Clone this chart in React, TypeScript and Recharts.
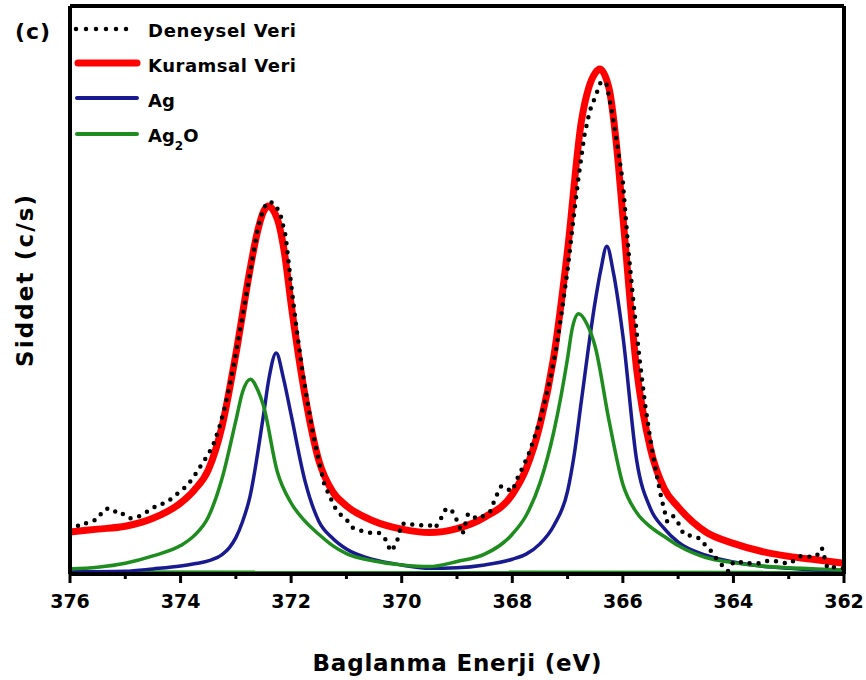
import { ComposedChart, Line, XAxis, YAxis } from "recharts";

// --- values (binding energy in eV, intensity in arbitrary units 0..100)
const EXP_E = [
  376.0, 375.9, 375.8, 375.7, 375.6, 375.5, 375.4, 375.3, 375.2, 375.1,
  375.0, 374.9, 374.8, 374.7, 374.6, 374.5, 374.4, 374.3, 374.2, 374.1,
  374.0, 373.9, 373.8, 373.7, 373.6, 373.5, 373.4, 373.3, 373.2, 373.1,
  373.0, 372.9, 372.8, 372.7, 372.6, 372.5, 372.4, 372.3, 372.2, 372.1,
  372.0, 371.9, 371.8, 371.7, 371.6, 371.5, 371.4, 371.3, 371.2, 371.1,
  371.0, 370.9, 370.8, 370.7, 370.6, 370.5, 370.4, 370.3, 370.2, 370.1,
  370.0, 369.9, 369.8, 369.7, 369.6, 369.5, 369.4, 369.3, 369.2, 369.1,
  369.0, 368.9, 368.8, 368.7, 368.6, 368.5, 368.4, 368.3, 368.2, 368.1,
  368.0, 367.9, 367.8, 367.7, 367.6, 367.5, 367.4, 367.3, 367.2, 367.1,
  367.0, 366.9, 366.8, 366.7, 366.6, 366.5, 366.4, 366.3, 366.2, 366.1,
  366.0, 365.9, 365.8, 365.7, 365.6, 365.5, 365.4, 365.3, 365.2, 365.1,
  365.0, 364.9, 364.8, 364.7, 364.6, 364.5, 364.4, 364.3, 364.2, 364.1,
  364.0, 363.9, 363.8, 363.7, 363.6, 363.5, 363.4, 363.3, 363.2, 363.1,
  363.0, 362.9, 362.8, 362.7, 362.6, 362.5, 362.4, 362.3, 362.2, 362.1,
  362.0,
];
const EXP_I = [
  8.0, 8.6, 8.4, 9.0, 9.3, 9.7, 11.2, 11.6, 11.0, 11.1,
  10.1, 9.8, 9.9, 10.4, 11.0, 11.6, 12.3, 12.4, 13.0, 13.8,
  14.6, 15.4, 16.6, 18.0, 19.6, 21.0, 23.0, 25.8, 29.3, 33.6,
  38.8, 44.3, 49.8, 55.5, 61.0, 64.4, 65.6, 65.2, 63.5, 59.5,
  51.0, 43.0, 36.0, 30.0, 24.5, 20.0, 15.8, 13.6, 11.6, 10.4,
  9.6, 8.2, 7.8, 7.5, 7.3, 7.2, 7.2, 6.2, 4.0, 5.2,
  8.8, 9.0, 8.7, 8.6, 8.6, 8.6, 8.0, 9.6, 11.5, 11.3,
  9.4, 7.0, 10.6, 10.0, 9.7, 10.4, 11.0, 13.5, 15.5, 15.0,
  14.6, 17.0, 19.0, 21.2, 24.0, 27.0, 30.8, 35.0, 40.0, 46.5,
  53.5, 62.0, 70.0, 77.0, 81.5, 84.0, 86.6, 86.5, 81.5, 75.5,
  69.0, 57.0, 47.0, 38.0, 30.0, 23.5, 18.0, 13.2, 9.3, 10.3,
  9.0, 7.0, 6.8, 6.6, 6.2, 5.0, 4.0, 2.6, 1.5, 0.5,
  2.1, 2.2, 1.8, 1.9, 1.9, 1.9, 2.3, 2.4, 2.2, 2.0,
  1.8, 2.4, 3.1, 3.2, 3.0, 3.1, 4.6, 1.0, 1.2, 1.1,
  1.0,
];

const FIT_E = [
  376, 375.5, 375, 374.5, 374, 373.75, 373.5, 373.25, 373, 372.75, 372.62, 372.5, 372.42,
  372.25, 372.12, 372, 371.75, 371.5, 371.25, 371, 370.5, 370, 369.5, 369, 368.5, 368,
  367.75, 367.5, 367.25, 367, 366.75, 366.62, 366.5, 366.42, 366.25, 366.12, 366, 365.75,
  365.5, 365.25, 365, 364.5, 364, 363.5, 363, 362.5, 362,
];
const FIT_I = [
  7.4, 7.9, 8.4, 9.8, 12.5, 14.8, 18.3, 26, 38.7, 53.3, 59.8, 63.8, 64.8,
  62.5, 56.5, 47.5, 31.5, 20, 14.5, 12, 9.3, 7.9, 7.3, 8.0, 10, 14,
  18.5, 26.2, 38.2, 57, 79.7, 85.5, 88.2, 88.9, 85.5, 76, 63, 36,
  22, 15, 11.8, 7.4, 5.4, 4.0, 3.1, 2.5, 1.9,
];

const AG_E = [
  376, 375, 374.5, 374, 373.75, 373.5, 373.25, 373.12, 373, 372.88, 372.75, 372.5, 372.4,
  372.27, 372.14, 372, 371.75, 371.5, 371.25, 371, 370.5, 370, 369.5, 369, 368.5, 368,
  367.75, 367.5, 367.25, 367, 366.88, 366.75, 366.5, 366.4, 366.29, 366.17, 366, 365.75,
  365.5, 365.25, 365, 364.5, 364, 363.5, 363, 362.5, 362,
];
const AG_I = [
  0.4, 0.5, 0.9, 1.4, 1.8, 2.3, 3.4, 4.6, 6.4, 9.2, 13.4, 28, 34.5,
  38.9, 34.5, 28, 16.4, 9.3, 6.3, 4.4, 2.5, 1.6, 1.0, 1.1, 1.6, 2.6,
  3.5, 5.3, 8.5, 14.6, 21.0, 30.5, 48, 53.5, 57.7, 53, 42, 20,
  11.5, 8.0, 5.6, 3.3, 2.1, 1.4, 1.0, 0.7, 0.5,
];

const AG2O_E = [
  376, 375.5, 375, 374.5, 374, 373.75, 373.5, 373.25, 373, 372.88, 372.74, 372.6, 372.5,
  372.25, 372, 371.75, 371.5, 371.25, 371, 370.5, 370, 369.5, 369, 368.5, 368, 367.75,
  367.5, 367.25, 367, 366.92, 366.8, 366.65, 366.5, 366.25, 366, 365.75, 365.5, 365.25,
  365, 364.5, 364, 363.5, 363, 362.5, 362,
];
const AG2O_I = [
  0.9, 1.2, 1.9, 3.2, 5.0, 6.8, 10, 16.8, 27, 32.0, 34.3, 32.3, 29.6,
  18, 12.5, 9.3, 7.0, 5.0, 3.6, 2.3, 1.6, 1.3, 2.2, 3.5, 7.0, 10.3,
  16, 25, 38, 43.0, 45.8, 44.0, 40, 27, 15.8, 10.8, 8.3, 6.6,
  5.0, 2.9, 2.0, 1.4, 1.1, 0.9, 0.7,
];

const BASE_E = [376, 362];
const BASE_I = [0.35, 0.25];

const X_TICKS = [376, 375, 374, 373, 372, 371, 370, 369, 368, 367, 366, 365, 364, 363, 362];

const RED = "#ff0000";
const BLUE = "#1a1a90";
const GREEN = "#1e8c1e";
const FONT = "'DejaVu Sans', sans-serif";

const pts = (es: number[], is: number[]) => es.map((e, k) => ({ e, i: is[k] }));

function EnergyTick(props: any) {
  const { x, y, payload } = props;
  const v = payload.value;
  const major = v % 2 === 0;
  return (
    <g>
      <line x1={x} x2={x} y1={y} y2={y + (major ? 9 : 5)} stroke="#000" strokeWidth={3} />
      {major && (
        <text x={x} y={y + 34} textAnchor="middle" fontFamily={FONT} fontWeight="bold" fontSize={19} fill="#000">
          {v}
        </text>
      )}
    </g>
  );
}

function Overlay() {
  const txt = { fontFamily: FONT, fontWeight: "bold" as const, fill: "#000" };
  return (
    <svg width={866} height={680} style={{ position: "absolute", left: 0, top: 0, pointerEvents: "none" }}>
      <text x={15} y={39} fontSize={22} textLength={35} {...txt}>(c)</text>

      <line x1={76} x2={132} y1={29} y2={29} stroke="#000" strokeWidth={4.5} strokeDasharray="0 10" strokeLinecap="round" />
      <text x={148} y={37} fontSize={18} textLength={148} {...txt}>Deneysel Veri</text>

      <line x1={78} x2={137} y1={63} y2={63} stroke={RED} strokeWidth={7} strokeLinecap="round" />
      <text x={148} y={72} fontSize={18} textLength={148} {...txt}>Kuramsal Veri</text>

      <line x1={77} x2={137} y1={98} y2={98} stroke={BLUE} strokeWidth={4} strokeLinecap="round" />
      <text x={148} y={107} fontSize={18} {...txt}>Ag</text>

      <line x1={77} x2={137} y1={134} y2={134} stroke={GREEN} strokeWidth={4} strokeLinecap="round" />
      <text x={148} y={142} fontSize={18} {...txt}>
        Ag<tspan fontSize={12} dy={8}>2</tspan><tspan dy={-8}>O</tspan>
      </text>

      <text x={457} y={671} fontSize={23} textAnchor="middle" textLength={289} {...txt}>
        Baglanma Enerji (eV)
      </text>
      <text transform="translate(33,281) rotate(-90)" x={0} y={0} fontSize={23} textAnchor="middle" textLength={172} {...txt}>
        Siddet (c/s)
      </text>
    </svg>
  );
}

export default function App() {
  return (
    <div style={{ position: "absolute", left: 0, top: 0, width: 866, height: 680, background: "#fff" }}>
      <ComposedChart width={866} height={680} margin={{ top: 5, right: 21, bottom: 76, left: 69 }}>
        <XAxis
          xAxisId="b"
          type="number"
          dataKey="e"
          domain={[362, 376]}
          reversed
          allowDataOverflow
          ticks={X_TICKS}
          interval={0}
          height={30}
          tickSize={0}
          tickMargin={0}
          tickLine={false}
          tick={(p: any) => <EnergyTick {...p} />}
          axisLine={{ stroke: "#000", strokeWidth: 4 }}
        />
        <XAxis
          xAxisId="t"
          orientation="top"
          type="number"
          domain={[362, 376]}
          reversed
          height={1}
          tick={false}
          tickLine={false}
          axisLine={{ stroke: "#000", strokeWidth: 4 }}
        />
        <YAxis
          yAxisId="l"
          type="number"
          domain={[0, 100]}
          width={1}
          tick={false}
          tickLine={false}
          allowDataOverflow
          axisLine={{ stroke: "#000", strokeWidth: 4 }}
        />
        <YAxis
          yAxisId="r"
          orientation="right"
          type="number"
          domain={[0, 100]}
          width={1}
          tick={false}
          tickLine={false}
          axisLine={{ stroke: "#000", strokeWidth: 4 }}
        />
        <Line xAxisId="b" yAxisId="l" data={pts(BASE_E, BASE_I)} dataKey="i" type="linear" stroke={GREEN} strokeWidth={3.5} dot={false} activeDot={false} isAnimationActive={false} />
        <Line xAxisId="b" yAxisId="l" data={pts(AG_E, AG_I)} dataKey="i" type="monotone" stroke={BLUE} strokeWidth={3.5} dot={false} activeDot={false} isAnimationActive={false} />
        <Line xAxisId="b" yAxisId="l" data={pts(AG2O_E, AG2O_I)} dataKey="i" type="monotone" stroke={GREEN} strokeWidth={3.5} dot={false} activeDot={false} isAnimationActive={false} />
        <Line xAxisId="b" yAxisId="l" data={pts(FIT_E, FIT_I)} dataKey="i" type="monotone" stroke={RED} strokeWidth={7} dot={false} activeDot={false} isAnimationActive={false} />
        <Line xAxisId="b" yAxisId="l" data={pts(EXP_E, EXP_I)} dataKey="i" type="linear" stroke="#000" strokeWidth={4.5} strokeDasharray="0 9" strokeLinecap="round" dot={false} activeDot={false} isAnimationActive={false} />
      </ComposedChart>
      <Overlay />
    </div>
  );
}
